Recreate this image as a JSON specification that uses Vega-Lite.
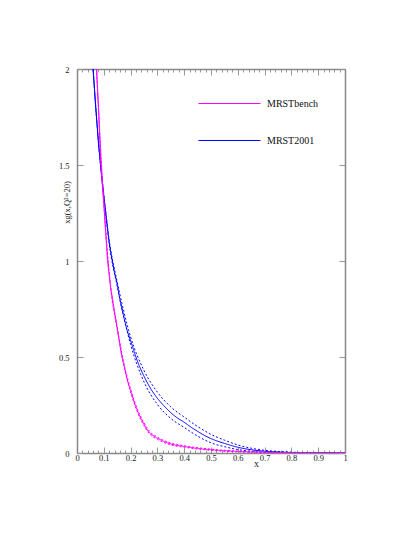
{
  "$schema": "https://vega.github.io/schema/vega-lite/v6.json",
  "width": 268,
  "height": 384,
  "autosize": "none",
  "padding": {"left": 77, "top": 69, "right": 70, "bottom": 84},
  "background": "white",
  "config": {
    "font": "Liberation Serif",
    "view": {"stroke": "#888", "strokeWidth": 1},
    "axis": {"domainColor": "#888", "domainWidth": 1.5, "tickColor": "#999", "tickWidth": 1, "labelColor": "#222", "labelFontSize": 8.5, "labelFont": "Liberation Serif", "titleFont": "Liberation Serif", "grid": false, "titleFontWeight": "normal", "titleColor": "#222", "labelOverlap": false, "labelFlush": false}
  },
  "data": {"values": [
    {"x":0.06,"y":2.0,"s":"MRST2001","k":"c"},{"x":0.065,"y":1.9,"s":"MRST2001","k":"c"},{"x":0.07,"y":1.8,"s":"MRST2001","k":"c"},{"x":0.075,"y":1.71,"s":"MRST2001","k":"c"},{"x":0.08,"y":1.62,"s":"MRST2001","k":"c"},{"x":0.09,"y":1.47,"s":"MRST2001","k":"c"},{"x":0.1,"y":1.34,"s":"MRST2001","k":"c"},{"x":0.11,"y":1.22,"s":"MRST2001","k":"c"},{"x":0.12,"y":1.1,"s":"MRST2001","k":"c"},{"x":0.132,"y":1.0,"s":"MRST2001","k":"c"},{"x":0.14,"y":0.94,"s":"MRST2001","k":"c"},{"x":0.15,"y":0.88,"s":"MRST2001","k":"c"},{"x":0.16,"y":0.8,"s":"MRST2001","k":"c"},{"x":0.173,"y":0.72,"s":"MRST2001","k":"c"},{"x":0.185,"y":0.65,"s":"MRST2001","k":"c"},{"x":0.2,"y":0.585,"s":"MRST2001","k":"c"},{"x":0.225,"y":0.48,"s":"MRST2001","k":"c"},{"x":0.25,"y":0.4,"s":"MRST2001","k":"c"},{"x":0.275,"y":0.335,"s":"MRST2001","k":"c"},{"x":0.3,"y":0.285,"s":"MRST2001","k":"c"},{"x":0.325,"y":0.245,"s":"MRST2001","k":"c"},{"x":0.35,"y":0.21,"s":"MRST2001","k":"c"},{"x":0.375,"y":0.182,"s":"MRST2001","k":"c"},{"x":0.4,"y":0.16,"s":"MRST2001","k":"c"},{"x":0.425,"y":0.135,"s":"MRST2001","k":"c"},{"x":0.45,"y":0.113,"s":"MRST2001","k":"c"},{"x":0.475,"y":0.092,"s":"MRST2001","k":"c"},{"x":0.5,"y":0.075,"s":"MRST2001","k":"c"},{"x":0.55,"y":0.05,"s":"MRST2001","k":"c"},{"x":0.6,"y":0.03,"s":"MRST2001","k":"c"},{"x":0.65,"y":0.017,"s":"MRST2001","k":"c"},{"x":0.7,"y":0.009,"s":"MRST2001","k":"c"},{"x":0.75,"y":0.005,"s":"MRST2001","k":"c"},{"x":0.8,"y":0.0025,"s":"MRST2001","k":"c"},{"x":0.85,"y":0.001,"s":"MRST2001","k":"c"},{"x":0.9,"y":0.0004,"s":"MRST2001","k":"c"},{"x":1.0,"y":0,"s":"MRST2001","k":"c"},
    {"x":0.06,"y":2.005,"s":"MRST2001","k":"u"},{"x":0.08,"y":1.626,"s":"MRST2001","k":"u"},{"x":0.1,"y":1.348,"s":"MRST2001","k":"u"},{"x":0.12,"y":1.11,"s":"MRST2001","k":"u"},{"x":0.15,"y":0.892,"s":"MRST2001","k":"u"},{"x":0.2,"y":0.605,"s":"MRST2001","k":"u"},{"x":0.25,"y":0.43,"s":"MRST2001","k":"u"},{"x":0.3,"y":0.317,"s":"MRST2001","k":"u"},{"x":0.35,"y":0.24,"s":"MRST2001","k":"u"},{"x":0.4,"y":0.187,"s":"MRST2001","k":"u"},{"x":0.45,"y":0.138,"s":"MRST2001","k":"u"},{"x":0.5,"y":0.097,"s":"MRST2001","k":"u"},{"x":0.55,"y":0.067,"s":"MRST2001","k":"u"},{"x":0.6,"y":0.042,"s":"MRST2001","k":"u"},{"x":0.65,"y":0.025,"s":"MRST2001","k":"u"},{"x":0.7,"y":0.014,"s":"MRST2001","k":"u"},{"x":0.8,"y":0.0045,"s":"MRST2001","k":"u"},{"x":0.9,"y":0.0008,"s":"MRST2001","k":"u"},{"x":1.0,"y":0,"s":"MRST2001","k":"u"},
    {"x":0.06,"y":1.995,"s":"MRST2001","k":"l"},{"x":0.08,"y":1.614,"s":"MRST2001","k":"l"},{"x":0.1,"y":1.332,"s":"MRST2001","k":"l"},{"x":0.12,"y":1.09,"s":"MRST2001","k":"l"},{"x":0.15,"y":0.868,"s":"MRST2001","k":"l"},{"x":0.2,"y":0.565,"s":"MRST2001","k":"l"},{"x":0.25,"y":0.37,"s":"MRST2001","k":"l"},{"x":0.3,"y":0.253,"s":"MRST2001","k":"l"},{"x":0.35,"y":0.18,"s":"MRST2001","k":"l"},{"x":0.4,"y":0.133,"s":"MRST2001","k":"l"},{"x":0.45,"y":0.088,"s":"MRST2001","k":"l"},{"x":0.5,"y":0.053,"s":"MRST2001","k":"l"},{"x":0.55,"y":0.033,"s":"MRST2001","k":"l"},{"x":0.6,"y":0.018,"s":"MRST2001","k":"l"},{"x":0.65,"y":0.009,"s":"MRST2001","k":"l"},{"x":0.7,"y":0.004,"s":"MRST2001","k":"l"},{"x":0.8,"y":0.0005,"s":"MRST2001","k":"l"},{"x":0.9,"y":0,"s":"MRST2001","k":"l"},{"x":1.0,"y":0,"s":"MRST2001","k":"l"},
    {"x":0.073,"y":2.0,"s":"MRSTbench","k":"c"},{"x":0.077,"y":1.88,"s":"MRSTbench","k":"c"},{"x":0.08,"y":1.8,"s":"MRSTbench","k":"c"},{"x":0.085,"y":1.63,"s":"MRSTbench","k":"c"},{"x":0.088,"y":1.53,"s":"MRSTbench","k":"c"},{"x":0.095,"y":1.39,"s":"MRSTbench","k":"c"},{"x":0.1,"y":1.3,"s":"MRSTbench","k":"c"},{"x":0.107,"y":1.15,"s":"MRSTbench","k":"c"},{"x":0.114,"y":1.0,"s":"MRSTbench","k":"c"},{"x":0.12,"y":0.93,"s":"MRSTbench","k":"c"},{"x":0.125,"y":0.87,"s":"MRSTbench","k":"c"},{"x":0.133,"y":0.8,"s":"MRSTbench","k":"c"},{"x":0.142,"y":0.72,"s":"MRSTbench","k":"c"},{"x":0.15,"y":0.65,"s":"MRSTbench","k":"c"},{"x":0.157,"y":0.59,"s":"MRSTbench","k":"c"},{"x":0.165,"y":0.52,"s":"MRSTbench","k":"c"},{"x":0.175,"y":0.46,"s":"MRSTbench","k":"c"},{"x":0.188,"y":0.38,"s":"MRSTbench","k":"c"},{"x":0.2,"y":0.325,"s":"MRSTbench","k":"c"},{"x":0.21,"y":0.28,"s":"MRSTbench","k":"c"},{"x":0.22,"y":0.24,"s":"MRSTbench","k":"c"},{"x":0.23,"y":0.205,"s":"MRSTbench","k":"c"},{"x":0.24,"y":0.175,"s":"MRSTbench","k":"c"},{"x":0.25,"y":0.15,"s":"MRSTbench","k":"c"},{"x":0.26,"y":0.125,"s":"MRSTbench","k":"c"},{"x":0.272,"y":0.104,"s":"MRSTbench","k":"c"},{"x":0.29,"y":0.085,"s":"MRSTbench","k":"c"},{"x":0.31,"y":0.07,"s":"MRSTbench","k":"c"},{"x":0.33,"y":0.057,"s":"MRSTbench","k":"c"},{"x":0.35,"y":0.047,"s":"MRSTbench","k":"c"},{"x":0.4,"y":0.034,"s":"MRSTbench","k":"c"},{"x":0.433,"y":0.027,"s":"MRSTbench","k":"c"},{"x":0.5,"y":0.017,"s":"MRSTbench","k":"c"},{"x":0.56,"y":0.011,"s":"MRSTbench","k":"c"},{"x":0.6,"y":0.008,"s":"MRSTbench","k":"c"},{"x":0.7,"y":0.004,"s":"MRSTbench","k":"c"},{"x":0.8,"y":0.0015,"s":"MRSTbench","k":"c"},{"x":0.9,"y":0.0003,"s":"MRSTbench","k":"c"},{"x":1.0,"y":0,"s":"MRSTbench","k":"c"},
    {"x":0.073,"y":2.004,"s":"MRSTbench","k":"u"},{"x":0.1,"y":1.306,"s":"MRSTbench","k":"u"},{"x":0.125,"y":0.876,"s":"MRSTbench","k":"u"},{"x":0.15,"y":0.656,"s":"MRSTbench","k":"u"},{"x":0.175,"y":0.467,"s":"MRSTbench","k":"u"},{"x":0.2,"y":0.333,"s":"MRSTbench","k":"u"},{"x":0.225,"y":0.23,"s":"MRSTbench","k":"u"},{"x":0.25,"y":0.158,"s":"MRSTbench","k":"u"},{"x":0.272,"y":0.111,"s":"MRSTbench","k":"u"},{"x":0.3,"y":0.083,"s":"MRSTbench","k":"u"},{"x":0.35,"y":0.052,"s":"MRSTbench","k":"u"},{"x":0.4,"y":0.038,"s":"MRSTbench","k":"u"},{"x":0.5,"y":0.02,"s":"MRSTbench","k":"u"},{"x":0.6,"y":0.01,"s":"MRSTbench","k":"u"},{"x":0.7,"y":0.005,"s":"MRSTbench","k":"u"},{"x":0.8,"y":0.0015,"s":"MRSTbench","k":"u"},{"x":1.0,"y":0,"s":"MRSTbench","k":"u"},
    {"x":0.073,"y":1.996,"s":"MRSTbench","k":"l"},{"x":0.1,"y":1.294,"s":"MRSTbench","k":"l"},{"x":0.125,"y":0.864,"s":"MRSTbench","k":"l"},{"x":0.15,"y":0.644,"s":"MRSTbench","k":"l"},{"x":0.175,"y":0.453,"s":"MRSTbench","k":"l"},{"x":0.2,"y":0.317,"s":"MRSTbench","k":"l"},{"x":0.225,"y":0.214,"s":"MRSTbench","k":"l"},{"x":0.25,"y":0.142,"s":"MRSTbench","k":"l"},{"x":0.272,"y":0.097,"s":"MRSTbench","k":"l"},{"x":0.3,"y":0.071,"s":"MRSTbench","k":"l"},{"x":0.35,"y":0.042,"s":"MRSTbench","k":"l"},{"x":0.4,"y":0.03,"s":"MRSTbench","k":"l"},{"x":0.5,"y":0.014,"s":"MRSTbench","k":"l"},{"x":0.6,"y":0.006,"s":"MRSTbench","k":"l"},{"x":0.7,"y":0.003,"s":"MRSTbench","k":"l"},{"x":0.8,"y":0.0015,"s":"MRSTbench","k":"l"},{"x":1.0,"y":0,"s":"MRSTbench","k":"l"}
  ]},
  "layer": [
    {
      "mark": {"type": "line", "strokeWidth": 1, "clip": true, "interpolate": "monotone"},
      "encoding": {
        "x": {"field": "x", "type": "quantitative", "scale": {"domain": [0, 1], "nice": false, "zero": true},
          "axis": {"orient": "bottom",
            "values": [0,0.02,0.04,0.06,0.08,0.1,0.12,0.14,0.16,0.18,0.2,0.22,0.24,0.26,0.28,0.3,0.32,0.34,0.36,0.38,0.4,0.42,0.44,0.46,0.48,0.5,0.52,0.54,0.56,0.58,0.6,0.62,0.64,0.66,0.68,0.7,0.72,0.74,0.76,0.78,0.8,0.82,0.84,0.86,0.88,0.9,0.92,0.94,0.96,0.98,1],
            "format": ".1~f",
            "labelExpr": "abs(datum.value*10 - round(datum.value*10)) < 0.000001 ? datum.label : ''",
            "tickSize": {"condition": {"test": "abs(datum.value*10 - round(datum.value*10)) < 0.000001", "value": -6}, "value": -3},
            "labelPadding": 6,
            "title": "x", "titleX": 179, "titleY": 10, "titleFontSize": 10, "titleBaseline": "middle", "titleAlign": "center"}},
        "y": {"field": "y", "type": "quantitative", "scale": {"domain": [0, 2], "nice": false},
          "axis": {"orient": "left", "values": [0, 0.5, 1, 1.5, 2], "format": "~g", "tickSize": -6, "labelPadding": 14,
            "title": "xg(x,Q²=20)", "titleX": -11, "titleY": 133, "titleFontSize": 8.5, "titleAngle": -90, "titleBaseline": "middle", "titleAlign": "center"}},
        "color": {"field": "s", "type": "nominal", "scale": {"domain": ["MRSTbench", "MRST2001"], "range": ["#ff00ff", "#0000ff"]},
          "legend": {"orient": "none", "legendX": 121, "legendY": 3, "title": null, "symbolType": "stroke", "symbolSize": 3844, "symbolStrokeWidth": 1, "labelFontSize": 10, "labelFont": "Liberation Serif", "labelColor": "#111", "rowPadding": -23, "labelOffset": 6, "padding": 0}},
        "strokeDash": {"field": "k", "type": "nominal", "scale": {"domain": ["c", "u", "l"], "range": [[1, 0], [2, 2], [2, 2]]}, "legend": null}
      }
    },
    {
      "mark": {"type": "point", "opacity": 0},
      "encoding": {
        "x": {"field": "x", "type": "quantitative", "scale": {"domain": [0, 1], "nice": false, "zero": true},
          "axis": {"orient": "top", "labels": false, "title": null,
            "values": [0,0.02,0.04,0.06,0.08,0.1,0.12,0.14,0.16,0.18,0.2,0.22,0.24,0.26,0.28,0.3,0.32,0.34,0.36,0.38,0.4,0.42,0.44,0.46,0.48,0.5,0.52,0.54,0.56,0.58,0.6,0.62,0.64,0.66,0.68,0.7,0.72,0.74,0.76,0.78,0.8,0.82,0.84,0.86,0.88,0.9,0.92,0.94,0.96,0.98,1],
            "tickSize": {"condition": {"test": "abs(datum.value*10 - round(datum.value*10)) < 0.000001", "value": -6}, "value": -3}}},
        "y": {"field": "y", "type": "quantitative", "scale": {"domain": [0, 2], "nice": false},
          "axis": {"orient": "right", "labels": false, "title": null, "values": [0, 0.5, 1, 1.5, 2], "tickSize": -6}}
      }
    }
  ],
  "resolve": {"axis": {"x": "independent", "y": "independent"}}
}
